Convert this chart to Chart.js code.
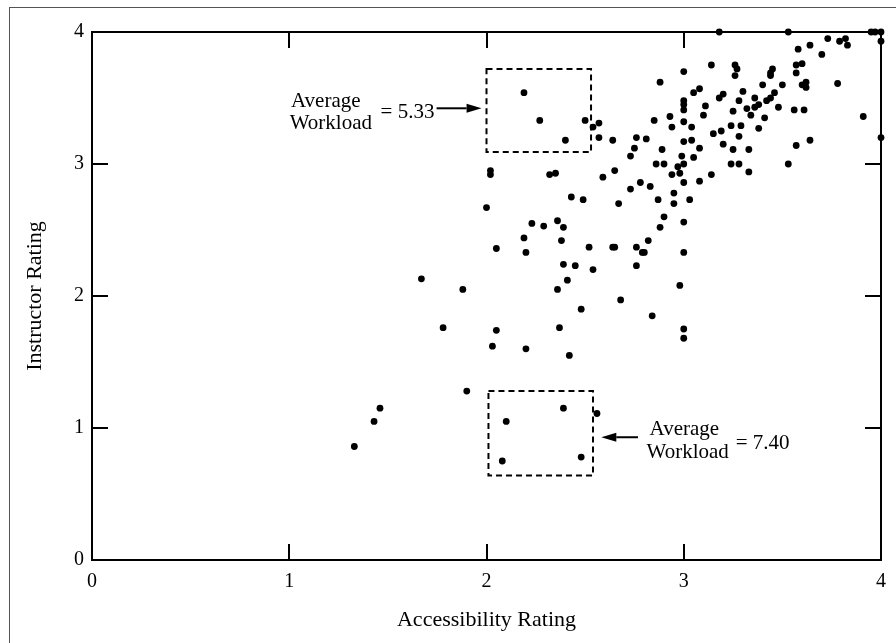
<!DOCTYPE html>
<html><head><meta charset="utf-8">
<script src="https://cdn.jsdelivr.net/npm/chart.js@4.4.0/dist/chart.umd.min.js"></script>
<style>html,body{margin:0;padding:0;background:#fff;}#wrap{width:896px;height:643px;}</style>
</head><body><div id="wrap"><canvas id="c" width="896" height="643"></canvas></div>
<script>
// ---- data ----
const accessibility = [
 3.18,3.53,3.95,3.97,4.00,4.00,3.58,3.64,3.73,3.79,3.82,3.83,3.70,3.00,3.14,3.26,3.27,3.26,3.45,3.44,
 3.44,3.57,3.60,3.57,2.88,3.50,3.40,3.60,3.62,3.62,3.78,3.91,4.00,3.08,3.05,3.00,3.00,3.00,3.20,3.18,
 3.30,3.28,3.36,3.38,3.36,3.42,3.44,3.46,3.48,3.56,3.61,3.11,3.10,3.32,3.34,3.25,3.41,3.38,2.85,2.93,
 2.94,3.00,3.04,2.50,2.54,2.57,2.57,2.64,2.76,2.75,2.81,2.73,2.89,3.00,3.04,3.08,3.15,3.19,3.24,3.29,
 3.28,3.20,3.25,3.33,3.57,3.64,2.99,3.05,2.86,2.90,2.97,3.00,2.98,2.94,3.24,3.28,3.33,3.53,3.14,3.08,
 3.00,2.65,2.59,2.78,2.83,2.73,2.49,2.67,2.87,2.95,2.95,3.03,2.90,2.88,3.00,2.82,2.76,2.79,2.80,2.64,
 2.65,2.52,3.00,2.76,2.54,2.98,2.68,2.48,2.84,3.00,3.00,2.27,2.40,2.02,2.02,2.32,2.35,2.43,2.00,2.23,
 2.29,2.36,2.39,2.19,2.20,2.38,2.05,2.39,2.45,1.67,1.88,2.41,2.36,1.78,2.05,2.03,2.20,2.37,2.42,1.90,
 2.39,2.10,1.46,1.43,1.33,2.56,2.08,2.48,2.19
];
const instructor = [
 4.00,4.00,4.00,4.00,4.00,3.93,3.87,3.90,3.95,3.93,3.95,3.90,3.83,3.70,3.75,3.75,3.72,3.67,3.72,3.69,
 3.67,3.75,3.76,3.69,3.62,3.60,3.60,3.60,3.62,3.58,3.61,3.36,3.20,3.57,3.54,3.48,3.45,3.41,3.53,3.50,
 3.55,3.48,3.50,3.45,3.43,3.48,3.50,3.54,3.43,3.41,3.41,3.44,3.37,3.42,3.37,3.40,3.35,3.27,3.33,3.36,
 3.28,3.32,3.28,3.33,3.28,3.31,3.20,3.18,3.20,3.12,3.19,3.06,3.11,3.17,3.18,3.12,3.23,3.25,3.29,3.29,
 3.21,3.15,3.11,3.11,3.14,3.18,3.06,3.05,3.00,3.00,2.98,3.00,2.93,2.92,3.00,3.00,2.94,3.00,2.92,2.87,
 2.86,2.95,2.90,2.86,2.83,2.81,2.73,2.70,2.73,2.78,2.70,2.73,2.60,2.52,2.56,2.42,2.37,2.33,2.33,2.37,
 2.37,2.37,2.33,2.23,2.20,2.08,1.97,1.90,1.85,1.75,1.68,3.33,3.18,2.95,2.92,2.92,2.93,2.75,2.67,2.55,
 2.53,2.57,2.52,2.44,2.33,2.42,2.36,2.24,2.23,2.13,2.05,2.12,2.05,1.76,1.74,1.62,1.60,1.76,1.55,1.28,
 1.15,1.05,1.15,1.05,0.86,1.11,0.75,0.78,3.54
];
const tickValues = [0, 1, 2, 3, 4];
const xTitle = 'Accessibility Rating';
const yTitle = 'Instructor Rating';
// annotation boxes (data coordinates) and labels
const boxX1 = [2.00, 2.53], boxY1 = [3.09, 3.72];
const boxX2 = [2.01, 2.54], boxY2 = [0.64, 1.28];
const label1 = ['Average', 'Workload', '= 5.33'];
const label2 = ['Average', 'Workload', '= 7.40'];

const points = accessibility.map((x, i) => ({x: x, y: instructor[i]}));
const FONT = '"Liberation Serif", "Times New Roman", serif';

const decor = {
  id: 'decor',
  beforeDraw(chart) {
    const ctx = chart.ctx;
    ctx.save();
    ctx.fillStyle = '#fff';
    ctx.fillRect(0, 0, chart.width, chart.height);
    ctx.strokeStyle = '#555';
    ctx.lineWidth = 1;
    ctx.strokeRect(9.5, 7.5, 3000, 3000);
    ctx.restore();
  },
  beforeDatasetsDraw(chart) {
    const ctx = chart.ctx, a = chart.chartArea;
    const xs = chart.scales.x, ys = chart.scales.y;
    ctx.save();
    ctx.strokeStyle = '#000';
    ctx.lineWidth = 2;
    ctx.strokeRect(a.left, a.top, a.right - a.left, a.bottom - a.top);
    ctx.beginPath();
    tickValues.slice(1, -1).forEach(v => {
      const px = Math.round(xs.getPixelForValue(v));
      ctx.moveTo(px, a.bottom); ctx.lineTo(px, a.bottom - 16);
      ctx.moveTo(px, a.top); ctx.lineTo(px, a.top + 16);
      const py = Math.round(ys.getPixelForValue(v));
      ctx.moveTo(a.left, py); ctx.lineTo(a.left + 16, py);
      ctx.moveTo(a.right, py); ctx.lineTo(a.right - 16, py);
    });
    ctx.stroke();
    ctx.restore();
  },
  afterDatasetsDraw(chart) {
    const ctx = chart.ctx;
    const xs = chart.scales.x, ys = chart.scales.y;
    const X = v => xs.getPixelForValue(v), Y = v => ys.getPixelForValue(v);
    ctx.save();
    // dashed boxes
    ctx.strokeStyle = '#000';
    ctx.lineWidth = 2;
    ctx.setLineDash([6, 4]);
    [[boxX1, boxY1], [boxX2, boxY2]].forEach(([bx, by]) => {
      ctx.strokeRect(X(bx[0]), Y(by[1]), X(bx[1]) - X(bx[0]), Y(by[0]) - Y(by[1]));
    });
    ctx.setLineDash([]);
    // text
    ctx.fillStyle = '#000';
    ctx.font = '21px ' + FONT;
    ctx.textBaseline = 'middle';
    ctx.textAlign = 'center';
    ctx.fillText(label1[0], X(1.185), Y(3.472));
    ctx.fillText(label1[1], X(1.211), Y(3.308));
    ctx.fillText(label2[0], X(3.003), Y(0.985));
    ctx.fillText(label2[1], X(3.02), Y(0.813));
    ctx.textAlign = 'left';
    ctx.fillText(label1[2], X(1.463), Y(3.389));
    ctx.fillText(label2[2], X(3.263), Y(0.886));
    // arrows
    function arrow(x1, x2, y) {
      const dir = Math.sign(x2 - x1), head = 15, hw = 4.5;
      ctx.beginPath();
      ctx.moveTo(x1, y); ctx.lineTo(x2 - dir * head, y);
      ctx.stroke();
      ctx.beginPath();
      ctx.moveTo(x2, y);
      ctx.lineTo(x2 - dir * head, y - hw);
      ctx.lineTo(x2 - dir * head, y + hw);
      ctx.closePath();
      ctx.fill();
    }
    arrow(X(1.747), X(1.975), Y(3.422));
    arrow(X(2.768), X(2.582), Y(0.93));
    ctx.restore();
  }
};

new Chart(document.getElementById('c'), {
  type: 'scatter',
  data: {datasets: [{
    data: points,
    backgroundColor: '#000',
    borderWidth: 0,
    pointRadius: 3.4,
    pointHoverRadius: 3.4,
    clip: false
  }]},
  options: {
    responsive: false,
    animation: false,
    events: [],
    layout: {padding: {left: 10, top: 32, right: 12, bottom: 0}},
    plugins: {legend: {display: false}, tooltip: {enabled: false}},
    scales: {
      x: {
        type: 'linear', position: 'bottom', min: 0, max: 4,
        afterBuildTicks: s => { s.ticks = tickValues.map(v => ({value: v})); },
        afterFit: s => { s.height = 83; },
        grid: {display: false, drawTicks: false},
        border: {display: false},
        ticks: {color: '#000', padding: 10, font: {family: FONT, size: 20}, maxRotation: 0},
        title: {display: true, text: xTitle, color: '#000', font: {family: FONT, size: 22}, padding: {top: 0, bottom: 10}}
      },
      y: {
        type: 'linear', position: 'left', min: 0, max: 4,
        afterBuildTicks: s => { s.ticks = tickValues.map(v => ({value: v})); },
        afterFit: s => { s.width = 82; },
        grid: {display: false, drawTicks: false},
        border: {display: false},
        ticks: {color: '#000', padding: 8, font: {family: FONT, size: 20}},
        title: {display: true, text: yTitle, color: '#000', font: {family: FONT, size: 22}, padding: {top: 12, bottom: 0}}
      }
    }
  },
  plugins: [decor]
});
</script>
</body></html>
